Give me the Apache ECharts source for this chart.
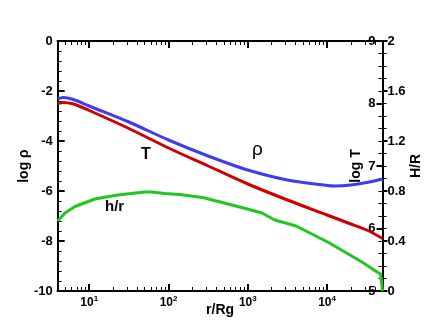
<!DOCTYPE html>
<html>
<head>
<meta charset="utf-8">
<script src="https://cdn.jsdelivr.net/npm/echarts@6/dist/echarts.min.js"></script>
<style>
  html, body { margin: 0; padding: 0; background: #fff; }
  #chart { width: 436px; height: 327px; }
</style>
</head>
<body>
<div id="chart"></div>
<script>
// 横轴: log10(r/Rg)
var xMin = Math.log10(4), xMax = Math.log10(50000);
var xPowers = [1, 2, 3, 4];

// 密度 log rho (左轴)
var rhoX = [0.602, 0.67, 0.8, 1.0, 1.5, 2.0, 2.5, 3.0, 3.5, 4.0, 4.1, 4.3, 4.5, 4.7];
var rhoY = [-2.32, -2.26, -2.34, -2.6, -3.24, -3.96, -4.6, -5.16, -5.56, -5.78, -5.8, -5.76, -5.66, -5.52];

// 温度 log T (右内轴)
var tX = [0.602, 0.67, 0.8, 1.0, 1.5, 2.0, 2.5, 3.0, 3.5, 4.0, 4.3, 4.5, 4.7];
var tY = [8.0, 8.016, 7.992, 7.888, 7.6, 7.288, 7.0, 6.712, 6.456, 6.216, 6.072, 5.976, 5.84];

// h/r (右外轴)
var hX = [0.602, 0.694, 0.82, 1.071, 1.36, 1.70, 1.79, 1.95, 2.14, 2.43, 2.85, 3.18, 3.34, 3.61, 4.03, 4.44, 4.63, 4.675, 4.699];
var hY = [0.56, 0.624, 0.676, 0.736, 0.768, 0.792, 0.792, 0.78, 0.772, 0.748, 0.68, 0.624, 0.568, 0.52, 0.384, 0.232, 0.152, 0.136, 0];

function pairs(xs, ys) {
    return xs.map(function (v, i) { return [v, ys[i]]; });
}

// 对数小刻度位置
var minorTicks = [];
for (var p = 0; p <= 4; p++) {
    for (var k = 2; k <= 9; k++) {
        var v = p + Math.log10(k);
        if (v > xMin && v < xMax) minorTicks.push(v);
    }
}

var font = 'Liberation Sans, Arial, sans-serif';
var black = '#000';

function xAx(pos, major, showLabel) {
    var vals = major ? xPowers : minorTicks;
    return {
        type: 'value', position: pos, min: xMin, max: xMax,
        axisLine: { show: true, onZero: false, lineStyle: { color: black, width: 2 } },
        axisTick: {
            show: true, inside: true, length: major ? 7 : 4,
            lineStyle: { color: black, width: major ? 2 : 1 },
            customValues: vals
        },
        axisLabel: {
            show: showLabel, margin: 4, customValues: vals,
            formatter: function (v) { return '{b|10}{s|' + Math.round(v) + '}'; },
            rich: {
                b: { fontFamily: font, fontWeight: 'bold', fontSize: 12, color: black },
                s: { fontFamily: font, fontWeight: 'bold', fontSize: 8, color: black, padding: [0, 0, 7, 0] }
            }
        },
        splitLine: { show: false },
        name: showLabel ? 'r/Rg' : '', nameLocation: 'middle', nameGap: 12, nameMoveOverlap: false,
        nameTextStyle: { fontFamily: font, fontWeight: 'bold', fontSize: 14, color: black }
    };
}

var myChart = echarts.init(document.getElementById('chart'));
myChart.setOption({
    animation: false,
    backgroundColor: '#fff',
    grid: { left: 57.7, right: 53.5, top: 41, bottom: 36, outerBoundsMode: 'none' },
    xAxis: [xAx('bottom', true, true), xAx('top', true, false), xAx('bottom', false, false), xAx('top', false, false)],
    yAxis: [
        {
            type: 'value', position: 'left', min: -10, max: 0, interval: 2,
            axisLine: { show: true, onZero: false, lineStyle: { color: black, width: 2 } },
            axisTick: { show: true, inside: true, length: 7, lineStyle: { color: black, width: 2 } },
            minorTick: { show: true, splitNumber: 5, length: 4, lineStyle: { color: black, width: 1 } },
            axisLabel: { margin: 5, fontFamily: font, fontWeight: 'bold', fontSize: 13, color: black },
            splitLine: { show: false },
            name: 'log ρ', nameLocation: 'middle', nameGap: 27, nameRotate: 90, nameMoveOverlap: false,
            nameTextStyle: { fontFamily: font, fontWeight: 'bold', fontSize: 14, color: black }
        },
        {
            type: 'value', position: 'right', min: 5, max: 9, interval: 1,
            axisLine: { show: true, onZero: false, lineStyle: { color: black, width: 2 } },
            axisTick: { show: true, inside: true, length: 6, lineStyle: { color: black, width: 2 } },
            minorTick: { show: true, splitNumber: 5, length: 4, lineStyle: { color: black, width: 1 } },
            axisLabel: { inside: true, margin: 7, fontFamily: font, fontWeight: 'bold', fontSize: 13, color: black },
            splitLine: { show: false },
            name: 'log T', nameLocation: 'middle', nameGap: -33, nameRotate: 90, nameMoveOverlap: false,
            nameTextStyle: { fontFamily: font, fontWeight: 'bold', fontSize: 14, color: black }
        },
        {
            type: 'value', position: 'right', min: 0, max: 2, interval: 0.4,
            axisLine: { show: true, onZero: false, lineStyle: { color: 'rgba(0,0,0,0)', width: 2 } },
            axisTick: { show: true, inside: false, length: 5, lineStyle: { color: black, width: 2 } },
            minorTick: { show: true, splitNumber: 4, length: 4, lineStyle: { color: black, width: 1 } },
            axisLabel: { margin: 5, fontFamily: font, fontWeight: 'bold', fontSize: 13, color: black,
                formatter: function (v) { return String(Math.round(v * 10) / 10); } },
            splitLine: { show: false },
            name: 'H/R', nameLocation: 'middle', nameGap: 27, nameRotate: 90, nameMoveOverlap: false,
            nameTextStyle: { fontFamily: font, fontWeight: 'bold', fontSize: 14, color: black }
        }
    ],
    series: [
        {
            name: 'rho', type: 'line', xAxisIndex: 0, yAxisIndex: 0, smooth: 0.3,
            showSymbol: false, data: pairs(rhoX, rhoY),
            lineStyle: { color: '#3c3cf5', width: 3 }, z: 3
        },
        {
            name: 'T', type: 'line', xAxisIndex: 0, yAxisIndex: 1, smooth: 0.3,
            showSymbol: false, data: pairs(tX, tY),
            lineStyle: { color: '#d00000', width: 3 }, z: 3
        },
        {
            name: 'h/r', type: 'line', xAxisIndex: 0, yAxisIndex: 2,
            showSymbol: false, data: pairs(hX, hY),
            lineStyle: { color: '#1ec81e', width: 3 }, z: 3
        }
    ],
    graphic: [
        { type: 'text', left: 141, top: 147, style: { text: 'T', font: 'bold 16px ' + font, fill: black } },
        { type: 'text', left: 252, top: 140, style: { text: 'ρ', font: '19px ' + font, fill: black } },
        { type: 'text', left: 105, top: 199, style: { text: 'h/r', font: 'bold 15px ' + font, fill: black } }
    ]
});
</script>
</body>
</html>
